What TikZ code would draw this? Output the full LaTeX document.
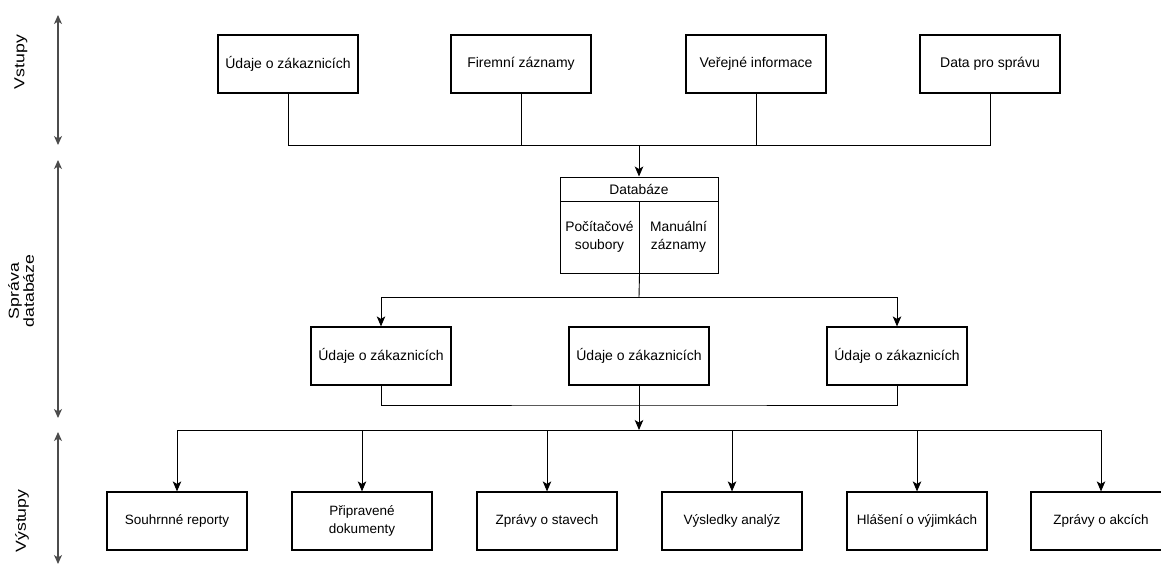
\documentclass[tikz,border=0pt]{standalone}
\usepackage{fontspec}
\setmainfont{Liberation Sans}
\usetikzlibrary{arrows.meta}
\tikzset{
  box/.style={draw=black, line width=1.2pt, fill=white, minimum width=140pt, minimum height=58pt,
    inner sep=2pt, align=center, font=\fontsize{14}{18}\selectfont},
  outbox/.style={box, font=\fontsize{13.5}{18}\selectfont},
  dbcell/.style={draw=black, line width=1pt, minimum width=79pt, minimum height=72pt,
    inner sep=1pt, align=center, font=\fontsize{13.8}{18}\selectfont},
  link/.style={draw=black, line width=0.9pt},
  arrowed/.style={-{Stealth[length=10pt,width=8.5pt,inset=2.5pt]}},
  sidearrow/.style={draw=black!70, line width=1.1pt,
    {Stealth[length=9pt,width=8pt,inset=2.5pt]}-{Stealth[length=9pt,width=8pt,inset=2.5pt]}},
  sidelabel/.style={rotate=90, xscale=1.22, transform shape, align=center,
    font=\fontsize{14.5}{15}\selectfont},
}
\begin{document}
\begin{tikzpicture}[x=1pt,y=-1pt]
\useasboundingbox (0,0) rectangle (1161,563);
% inputs
\node[box] (in1) at (288,64) {Údaje o zákaznicích};
\node[box] (in2) at (521,64) {Firemní záznamy};
\node[box] (in3) at (756,64) {Veřejné informace};
\node[box] (in4) at (990,64) {Data pro správu};
% database
\node[dbcell, minimum width=158pt, minimum height=24pt] (dbhead) at (639,189) {Databáze};
\node[dbcell] (dbpc) at (599.5,237) {Počítačové\\soubory};
\node[dbcell] (dbman) at (678.5,237) {Manuální\\záznamy};
% middle row
\node[box] (mid1) at (381,356) {Údaje o zákaznicích};
\node[box] (mid2) at (639,356) {Údaje o zákaznicích};
\node[box] (mid3) at (897,356) {Údaje o zákaznicích};
% outputs
\node[outbox] (out1) at (177,521) {Souhrnné reporty};
\node[outbox] (out2) at (362,521) {Připravené\\dokumenty};
\node[outbox] (out3) at (547,521) {Zprávy o stavech};
\node[outbox] (out4) at (732,521) {Výsledky analýz};
\node[outbox] (out5) at (917,521) {Hlášení o výjimkách};
\node[outbox] (out6) at (1101,521) {Zprávy o akcích};
% buses
\coordinate (inbus) at (639,145);
\coordinate (dbbus) at (639,297);
\coordinate (midjoin) at (639,405);
\coordinate (outbus) at (639,430);
\foreach \n in {in1,in2,in3,in4}{ \draw[link] (\n.south) |- (inbus); }
\draw[link,arrowed] (inbus) -- (dbhead.north);
\draw[link] (dbpc.south east) -- (dbbus);
\draw[link,arrowed] (dbbus) -| (mid1.north);
\draw[link,arrowed] (dbbus) -| (mid3.north);
\draw[link] (mid1.south) |- (midjoin) -| (mid3.south);
\draw[link,arrowed] (mid2.south) -- (outbus);
\foreach \n in {out1,out2,out3,out4,out5,out6}{ \draw[link,arrowed] (outbus) -| (\n.north); }
% side labels
\coordinate (intop) at (58,15);
\coordinate (inbot) at (58,145);
\coordinate (dbtop) at (58,160);
\coordinate (dbbot) at (58,418);
\coordinate (outtop) at (58,432);
\coordinate (outbot) at (58,564);
\draw[sidearrow] (intop) -- (inbot);
\draw[sidearrow] (dbtop) -- (dbbot);
\draw[sidearrow] (outtop) -- (outbot);
\node[sidelabel] (lblin) at (21,62) {Vstupy};
\node[sidelabel] (lbldb) at (21,291) {Správa\\databáze};
\node[sidelabel] (lblout) at (22,521) {Výstupy};
\end{tikzpicture}
\end{document}
